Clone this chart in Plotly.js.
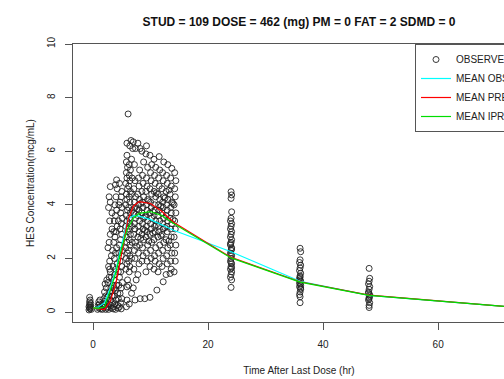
<!DOCTYPE html>
<html>
<head>
<meta charset="utf-8">
<script src="https://cdn.plot.ly/plotly-3.0.1.min.js"></script>
<style>
html, body { margin:0; padding:0; overflow:hidden; background:#fff; }
#plot { width:540px; height:379px; }
</style>
</head>
<body>
<div id="plot"></div>
<script>
// Observed concentrations: [time (hr), conc (mcg/mL)]
const obsPoints = [
  [-0.7,0.08],[-0.5,0.12],[-0.6,0.15],[-0.4,0.18],[-0.7,0.2],[-0.5,0.24],[-0.6,0.28],[-0.4,0.32],[-0.6,0.38],[-0.5,0.45],[-0.6,0.55],[-0.3,0.1],
  [0.8,0.1],[1.0,0.15],[1.2,0.2],[0.9,0.25],[1.1,0.3],[1.3,0.12],[1.0,0.38],[1.2,0.45],
  [1.6,0.1],[1.8,0.18],[2.0,0.25],[1.7,0.32],[2.1,0.4],[1.9,0.5],[2.2,0.6],[2.0,0.75],[2.3,0.9],[2.1,1.05],[2.4,0.15],[2.3,0.35],[2.5,0.55],[2.4,1.2],
  [2.6,0.2],[2.8,0.3],[3.0,0.45],[2.7,0.6],[2.9,0.75],[3.1,0.9],[2.6,1.1],[2.8,1.3],[3.0,1.5],[2.7,1.7],[2.9,1.9],[3.2,2.1],[2.6,2.4],[2.8,2.6],[3.0,2.9],[3.3,3.1],[2.9,3.4],[2.7,3.9],[3.0,4.1],[2.8,4.3],[3.0,4.68],[3.2,0.15],[3.4,0.35],[3.3,0.6],[3.4,1.0],
  [3.6,0.2],[3.8,0.3],[4.0,0.45],[3.7,0.6],[3.9,0.8],[4.1,1.0],[3.6,1.2],[3.8,1.4],[4.0,1.6],[4.2,1.8],[3.7,2.0],[3.9,2.2],[4.1,2.4],[3.6,2.6],[3.8,2.8],[4.0,3.0],[4.2,3.2],[3.7,3.4],[3.9,3.6],[4.1,3.8],[3.8,4.0],[4.0,4.3],[4.2,4.6],[4.1,4.93],[3.9,4.75],[4.3,0.25],[4.4,0.5],[4.3,0.7],
  [4.6,0.2],[4.8,0.35],[5.0,0.5],[4.7,0.7],[4.9,0.9],[5.1,1.1],[4.6,1.3],[4.8,1.5],[5.0,1.7],[4.7,1.9],[4.9,2.1],[5.1,2.3],[4.6,2.5],[4.8,2.7],[5.0,2.9],[4.7,3.1],[4.9,3.3],[5.1,3.5],[4.8,3.7],[5.0,3.9],[4.7,4.1],[4.9,4.3],[5.0,4.5],[4.6,4.8],
  [2.2,0.1],[2.7,0.1],[3.1,0.25],[3.5,0.12],[3.9,0.1],[4.4,0.15],[4.9,0.12],[3.3,0.8],[3.7,0.9],[4.5,1.0],[3.2,1.3],[4.4,1.5],[2.9,1.6],[3.5,1.7],[4.5,2.2],[3.4,2.3],[3.6,3.0],[4.4,3.4],[4.5,4.0],[3.3,3.7],
  [5.8,0.2],[5.9,0.45],[5.9,0.94],[5.7,1.6],[5.9,1.8],[5.8,2.0],[6.0,2.2],[5.7,2.4],[5.9,2.6],[5.8,2.8],[6.0,3.0],[5.7,3.2],[5.9,3.4],[5.8,3.6],[6.0,3.8],[5.7,4.0],[5.9,4.2],[5.8,4.4],[6.0,4.6],[5.7,4.8],[5.9,5.0],[5.8,5.2],[6.0,5.4],[5.8,5.6],[5.9,5.85],[5.9,6.3],
  [6.3,0.3],[6.7,0.7],[6.3,1.5],[6.4,1.7],[6.2,1.9],[6.4,2.1],[6.2,2.3],[6.4,2.5],[6.3,2.7],[6.5,2.9],[6.2,3.1],[6.4,3.3],[6.3,3.5],[6.5,3.7],[6.2,3.9],[6.4,4.1],[6.3,4.3],[6.5,4.5],[6.2,4.7],[6.4,4.9],[6.3,5.1],[6.5,5.3],[6.3,5.5],[6.4,6.2],[6.6,6.4],[6.1,7.39],
  [6.7,2.0],[6.8,2.6],[6.7,3.2],[6.8,3.8],[6.7,4.4],[6.8,5.0],[6.7,5.7],[6.9,6.1],[6.0,1.2],[6.2,1.0],[7.0,6.35],[8.2,6.1],
  [7.3,0.45],[8.2,0.5],[9.0,0.5],[9.9,0.55],[11.1,0.82],[12.2,1.13],[7.0,0.9],[7.5,1.2],
  [7.1,1.6],[7.3,2.0],[7.2,2.3],[7.4,2.6],[7.1,2.9],[7.3,3.1],[7.2,3.3],[7.4,3.5],[7.1,3.7],[7.3,3.9],[7.2,4.1],[7.4,4.3],[7.1,4.6],[7.3,4.9],[7.2,5.5],[7.4,6.1],
  [7.8,1.4],[8.0,1.8],[7.9,2.2],[8.1,2.5],[7.8,2.8],[8.0,3.0],[7.9,3.2],[8.1,3.4],[7.8,3.6],[8.0,3.8],[7.9,4.0],[8.1,4.2],[7.8,4.4],[8.0,4.7],[7.9,5.0],[8.1,5.3],[7.8,6.3],
  [8.5,1.9],[8.7,2.1],[8.6,2.4],[8.8,2.7],[8.5,2.9],[8.7,3.1],[8.6,3.3],[8.8,3.5],[8.5,3.7],[8.7,3.9],[8.6,4.1],[8.8,4.3],[8.5,4.5],[8.7,4.8],[8.6,5.1],[8.8,5.6],[8.5,6.0],
  [9.2,1.5],[9.4,1.9],[9.3,2.2],[9.5,2.5],[9.2,2.8],[9.4,3.0],[9.3,3.2],[9.5,3.4],[9.2,3.6],[9.4,3.8],[9.3,4.0],[9.5,4.2],[9.2,4.5],[9.4,4.7],[9.3,5.0],[9.5,5.4],[9.2,5.9],[9.3,6.2],
  [9.9,1.7],[10.1,2.0],[10.0,2.3],[10.2,2.6],[9.9,2.9],[10.1,3.1],[10.0,3.3],[10.2,3.5],[9.9,3.7],[10.1,3.9],[10.0,4.1],[10.2,4.4],[9.9,4.6],[10.1,4.9],[10.0,5.2],[10.2,5.5],[9.9,5.85],
  [10.6,1.6],[10.8,1.9],[10.7,2.1],[10.9,2.4],[10.6,2.7],[10.8,3.0],[10.7,3.2],[10.9,3.4],[10.6,3.6],[10.8,3.8],[10.7,4.0],[10.9,4.3],[10.6,4.5],[10.8,4.8],[10.7,5.1],[10.9,5.4],[10.6,5.7],
  [11.3,1.5],[11.5,1.8],[11.4,2.2],[11.6,2.5],[11.3,2.8],[11.5,3.0],[11.4,3.2],[11.6,3.4],[11.3,3.6],[11.5,3.8],[11.4,4.0],[11.6,4.2],[11.3,4.4],[11.5,4.7],[11.4,5.0],[11.6,5.3],[11.5,5.8],
  [12.0,1.7],[12.2,2.0],[12.1,2.3],[12.3,2.6],[12.0,2.9],[12.2,3.1],[12.1,3.3],[12.3,3.5],[12.0,3.7],[12.2,3.9],[12.1,4.1],[12.3,4.3],[12.0,4.6],[12.2,4.9],[12.1,5.2],[12.3,5.6],
  [12.7,1.4],[12.9,1.8],[12.8,2.1],[13.0,2.4],[12.7,2.7],[12.9,3.0],[12.8,3.2],[13.0,3.4],[12.7,3.6],[12.9,3.8],[12.8,4.0],[13.0,4.2],[12.7,4.5],[12.9,4.8],[12.8,5.1],[13.0,5.5],
  [13.4,1.44],[13.6,1.6],[13.5,1.9],[13.7,2.2],[13.4,2.5],[13.6,2.8],[13.5,3.1],[13.7,3.3],[13.4,3.5],[13.6,3.7],[13.5,3.9],[13.7,4.1],[13.4,4.4],[13.6,4.7],[13.5,5.0],[13.7,5.36],
  [14.1,1.5],[14.3,1.9],[14.2,2.2],[14.4,2.5],[14.1,2.8],[14.3,3.1],[14.2,3.4],[14.4,3.7],[14.1,4.0],[14.3,4.3],[14.2,4.6],[14.4,4.9],[14.2,5.2],
  [7.6,2.45],[8.3,2.75],[9.0,3.05],[9.7,2.65],[10.4,2.95],[11.0,3.25],[11.8,2.85],[12.5,3.15],[13.2,2.65],[13.9,3.45],[7.6,3.85],[8.3,4.05],[9.0,3.55],[9.7,4.15],[10.4,3.75],[11.0,4.45],[11.8,3.95],[12.5,4.25],[13.2,4.55],[13.9,4.05],
  [24.0,4.49],[24.1,4.37],[24.0,4.24],[24.1,3.74],[24.0,3.5],[23.9,3.4],[24.1,3.3],[24.0,3.2],[23.9,3.1],[24.1,3.0],[24.0,2.9],[23.9,2.8],[24.1,2.7],[24.0,2.6],[23.9,2.5],[24.1,2.4],[24.0,2.3],[23.9,2.2],[24.1,2.1],[24.0,2.0],[23.9,1.9],[24.1,1.8],[24.0,1.7],[23.9,1.6],[24.1,1.5],[24.0,1.4],[23.9,1.3],[24.1,1.2],[24.0,0.92],[24.0,2.15],[24.1,2.35],[23.9,2.55],[24.0,1.85],[24.1,1.65],
  [36.0,2.38],[36.1,2.25],[36.0,1.95],[35.9,1.85],[36.1,1.75],[36.0,1.65],[35.9,1.55],[36.1,1.45],[36.0,1.35],[35.9,1.25],[36.1,1.15],[36.0,1.05],[35.9,0.95],[36.1,0.85],[36.0,0.75],[35.9,0.65],[36.0,0.57],[36.0,0.35],[36.1,1.0],[35.9,1.1],[36.0,1.2],[36.1,0.9],[36.0,1.3],
  [48.0,1.63],[48.1,1.26],[48.0,1.15],[47.9,1.05],[48.1,0.95],[48.0,0.85],[47.9,0.75],[48.1,0.65],[48.0,0.55],[47.9,0.45],[48.1,0.35],[48.0,0.25],[48.0,0.17],[48.1,0.6],[47.9,0.7],[48.0,0.5]
];

// Mean profiles
const meanTime  = [0, 1, 2, 3, 4, 5, 6, 7, 8, 10, 12, 14, 24, 36, 48, 60, 72];
const meanObs   = [0.16, 0.2, 0.35, 0.9, 1.6, 2.5, 3.45, 3.6, 3.58, 3.45, 3.25, 3.05, 2.25, 1.15, 0.62, 0.42, 0.2];
const meanPred  = [0.16, 0.13, 0.09, 0.4, 1.1, 2.2, 3.4, 3.95, 4.12, 4.05, 3.75, 3.35, 2.04, 1.13, 0.63, 0.42, 0.2];
const meanIpred = [0.16, 0.14, 0.2, 0.8, 1.5, 2.4, 3.1, 3.5, 3.68, 3.75, 3.6, 3.3, 2.02, 1.12, 0.62, 0.42, 0.2];

const xTicks = [0, 20, 40, 60];
const yTicks = [0, 2, 4, 6, 8, 10];
const seriesNames = ['OBSERVED', 'MEAN OBS', 'MEAN PRED', 'MEAN IPRED'];
const titleText = 'STUD = 109 DOSE = 462 (mg) PM = 0 FAT = 2 SDMD = 0';

const FONT = 'Liberation Sans, Arial, Helvetica, sans-serif';
const AX = '#555555';

const traces = [
  {
    x: obsPoints.map(p => p[0]), y: obsPoints.map(p => p[1]),
    type: 'scatter', mode: 'markers', name: seriesNames[0],
    marker: {symbol: 'circle-open', size: 6, color: '#222', line: {width: 0.9, color: '#222'}}
  },
  {x: meanTime, y: meanObs, type: 'scatter', mode: 'lines', name: seriesNames[1], line: {color: '#00FFFF', width: 1.2}},
  {x: meanTime, y: meanPred, type: 'scatter', mode: 'lines', name: seriesNames[2], line: {color: '#FF0000', width: 1.2}},
  {x: meanTime, y: meanIpred, type: 'scatter', mode: 'lines', name: seriesNames[3], line: {color: '#00DD00', width: 1.2}}
];

const layout = {
  width: 540, height: 379,
  margin: {l: 73, r: 15, t: 44, b: 57},
  paper_bgcolor: '#fff', plot_bgcolor: '#fff',
  font: {family: FONT, size: 10, color: '#222'},
  title: {text: titleText, font: {family: FONT, size: 12, color: '#111', weight: 'bold'},
          x: 0.5, xref: 'paper', xanchor: 'center', y: 379 - 18, yref: 'container', yanchor: 'middle'},
  showlegend: true,
  legend: {x: 1, xanchor: 'right', y: 1, yanchor: 'top', bordercolor: AX, borderwidth: 1,
           bgcolor: '#fff', font: {family: FONT, size: 10, color: '#222'}, tracegroupgap: 0},
  xaxis: {
    range: [-3.48, 75.1], tickvals: xTicks, ticktext: xTicks.map(String),
    showgrid: false, zeroline: false, showline: true, mirror: true, linecolor: AX, linewidth: 1,
    ticks: 'outside', ticklen: 7, tickcolor: AX, tickwidth: 1, ticklabelstandoff: 6,
    title: {text: 'Time After Last Dose (hr)', font: {family: FONT, size: 10, color: '#222'}, standoff: 17},
    automargin: false
  },
  yaxis: {
    range: [-0.37, 10.0], tickvals: yTicks, ticktext: yTicks.map(String), tickangle: -90,
    showgrid: false, zeroline: false, showline: true, mirror: true, linecolor: AX, linewidth: 1,
    ticks: 'outside', ticklen: 7, tickcolor: AX, tickwidth: 1, ticklabelstandoff: 6,
    title: {text: 'HES Concentration(mcg/mL)', font: {family: FONT, size: 10, color: '#222'}, standoff: 9},
    automargin: false
  }
};

Plotly.newPlot('plot', traces, layout, {displayModeBar: false, staticPlot: true});
</script>
</body>
</html>
